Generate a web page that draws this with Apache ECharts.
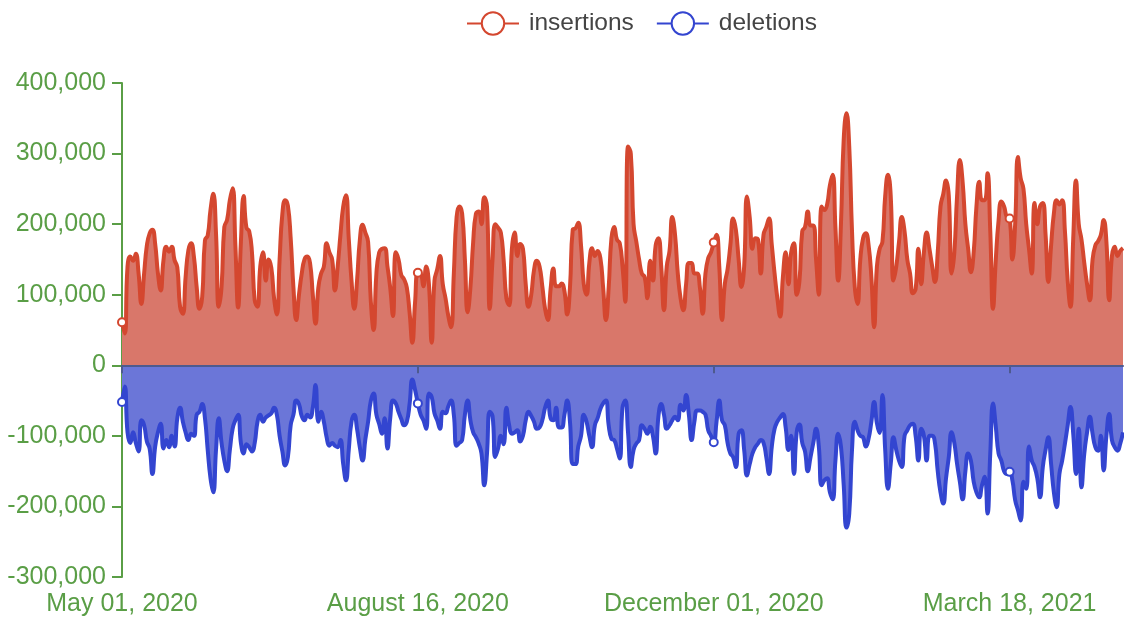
<!DOCTYPE html>
<html>
<head>
<meta charset="utf-8">
<title>insertions / deletions</title>
<script src="https://cdn.jsdelivr.net/npm/echarts@6.0.0/dist/echarts.min.js"></script>
<style>
  html, body { margin: 0; padding: 0; background: #fff; }
  #main { width: 1124px; height: 620px; }
</style>
</head>
<body>
<div id="main"></div>
<script>
  // daily values starting May 01, 2020
  const startYear = 2020
  const startMonth = 4 // May (0-based)
  const startDay = 1
  const monthNames = ['January', 'February', 'March', 'April', 'May', 'June', 'July',
    'August', 'September', 'October', 'November', 'December']

  const insertions = [
    61000, 45000, 140000, 154000, 148000, 158000, 130000, 87000, 130000, 170000,
    187000, 192000, 172000, 130000, 106000, 149000, 168000, 161000, 168000, 149000,
    139000, 83000, 73000, 125000, 163000, 173000, 154000, 111000, 80000, 97000,
    177000, 184000, 220000, 243000, 187000, 83000, 111000, 196000, 206000, 234000,
    251000, 170000, 82000, 175000, 240000, 195000, 190000, 160000, 92000, 83000,
    140000, 160000, 120000, 150000, 138000, 95000, 72000, 150000, 215000, 234000,
    226000, 180000, 110000, 64000, 100000, 130000, 150000, 154000, 145000, 100000,
    59000, 110000, 130000, 140000, 173000, 160000, 150000, 106000, 140000, 185000,
    225000, 241000, 180000, 120000, 80000, 120000, 177000, 199000, 188000, 175000,
    90000, 50000, 130000, 160000, 165000, 166000, 140000, 110000, 70000, 160000,
    150000, 128000, 122000, 110000, 75000, 32000, 90000, 131000, 130000, 112000,
    140000, 115000, 32000, 120000, 136000, 155000, 115000, 95000, 70000, 54000,
    130000, 210000, 225000, 215000, 150000, 75000, 110000, 175000, 215000, 218000,
    200000, 238000, 225000, 80000, 150000, 200000, 195000, 188000, 150000, 95000,
    85000, 165000, 188000, 155000, 172000, 165000, 115000, 83000, 100000, 135000,
    148000, 140000, 112000, 80000, 64000, 108000, 137000, 112000, 112000, 116000,
    105000, 72000, 110000, 192000, 194000, 202000, 170000, 115000, 100000, 145000,
    166000, 155000, 162000, 152000, 110000, 64000, 110000, 180000, 196000, 178000,
    173000, 140000, 90000, 310000, 300000, 200000, 175000, 150000, 130000, 125000,
    95000, 148000, 120000, 170000, 180000, 140000, 78000, 140000, 162000, 210000,
    185000, 130000, 95000, 78000, 115000, 145000, 145000, 130000, 130000, 110000,
    73000, 130000, 152000, 160000, 174000, 185000, 140000, 64000, 115000, 136000,
    170000, 208000, 192000, 150000, 111000, 140000, 239000, 210000, 165000, 180000,
    178000, 130000, 185000, 196000, 208000, 170000, 130000, 95000, 69000, 125000,
    160000, 115000, 160000, 173000, 100000, 120000, 190000, 196000, 218000, 198000,
    198000, 150000, 100000, 225000, 220000, 228000, 255000, 270000, 195000, 120000,
    200000, 320000, 357000, 310000, 190000, 111000, 87000, 150000, 180000, 187000,
    170000, 125000, 54000, 140000, 165000, 175000, 240000, 270000, 240000, 120000,
    140000, 175000, 210000, 190000, 150000, 130000, 102000, 108000, 165000, 115000,
    160000, 188000, 165000, 140000, 118000, 160000, 225000, 243000, 262000, 240000,
    130000, 160000, 240000, 291000, 260000, 200000, 165000, 132000, 160000, 225000,
    260000, 234000, 234000, 272000, 190000, 80000, 150000, 205000, 232000, 225000,
    210000, 208000, 150000, 200000, 295000, 265000, 250000, 200000, 165000, 130000,
    230000, 200000, 225000, 230000, 185000, 118000, 170000, 215000, 234000, 228000,
    234000, 190000, 120000, 83000, 180000, 262000, 200000, 178000, 145000, 115000,
    92000, 150000, 170000, 176000, 185000, 206000, 175000, 92000, 155000, 168000,
    155000, 162000, 166000
  ]

  const deletions = [
    -52000, -30000, -95000, -110000, -95000, -110000, -122000, -78000, -85000, -108000,
    -118000, -154000, -115000, -95000, -83000, -118000, -106000, -116000, -100000, -115000,
    -75000, -60000, -80000, -95000, -106000, -97000, -100000, -70000, -66000, -55000,
    -75000, -120000, -160000, -180000, -120000, -75000, -110000, -135000, -150000, -120000,
    -90000, -78000, -70000, -110000, -125000, -112000, -116000, -122000, -110000, -80000,
    -70000, -80000, -74000, -71000, -68000, -60000, -70000, -100000, -122000, -142000,
    -130000, -85000, -70000, -50000, -55000, -72000, -78000, -70000, -74000, -60000,
    -28000, -80000, -66000, -80000, -102000, -114000, -110000, -114000, -116000, -106000,
    -140000, -163000, -120000, -80000, -70000, -90000, -116000, -135000, -105000, -80000,
    -50000, -40000, -70000, -83000, -97000, -75000, -118000, -75000, -50000, -54000,
    -66000, -76000, -85000, -80000, -55000, -20000, -35000, -54000, -70000, -78000,
    -90000, -40000, -45000, -68000, -78000, -90000, -66000, -68000, -58000, -50000,
    -70000, -114000, -110000, -106000, -70000, -50000, -78000, -95000, -102000, -111000,
    -125000, -170000, -125000, -66000, -72000, -130000, -118000, -100000, -112000, -60000,
    -85000, -97000, -95000, -92000, -108000, -100000, -78000, -66000, -72000, -80000,
    -90000, -88000, -78000, -60000, -50000, -75000, -78000, -60000, -88000, -88000,
    -70000, -50000, -80000, -140000, -140000, -115000, -100000, -70000, -80000, -100000,
    -116000, -85000, -75000, -62000, -54000, -50000, -85000, -104000, -106000, -118000,
    -132000, -60000, -50000, -95000, -144000, -120000, -111000, -106000, -85000, -90000,
    -97000, -87000, -100000, -125000, -72000, -55000, -70000, -90000, -85000, -78000,
    -73000, -78000, -56000, -64000, -42000, -70000, -106000, -80000, -64000, -64000,
    -66000, -70000, -92000, -100000, -109000, -80000, -50000, -78000, -85000, -110000,
    -125000, -130000, -144000, -97000, -92000, -120000, -156000, -140000, -125000, -116000,
    -111000, -106000, -110000, -130000, -154000, -115000, -90000, -80000, -74000, -69000,
    -88000, -120000, -100000, -154000, -95000, -84000, -110000, -122000, -150000, -130000,
    -110000, -90000, -115000, -170000, -163000, -160000, -180000, -190000, -135000, -97000,
    -115000, -170000, -230000, -210000, -120000, -80000, -92000, -100000, -102000, -115000,
    -104000, -80000, -52000, -82000, -96000, -42000, -120000, -175000, -140000, -102000,
    -120000, -135000, -144000, -100000, -92000, -85000, -83000, -100000, -135000, -90000,
    -100000, -135000, -100000, -100000, -110000, -150000, -180000, -196000, -160000, -130000,
    -95000, -110000, -140000, -165000, -190000, -150000, -125000, -135000, -165000, -180000,
    -187000, -170000, -158000, -210000, -125000, -54000, -87000, -125000, -135000, -150000,
    -154000, -151000, -163000, -191000, -205000, -220000, -165000, -175000, -115000, -135000,
    -144000, -160000, -187000, -144000, -120000, -102000, -140000, -180000, -201000, -154000,
    -135000, -111000, -85000, -59000, -97000, -154000, -90000, -173000, -125000, -95000,
    -73000, -97000, -116000, -121000, -100000, -149000, -100000, -69000, -106000, -116000,
    -121000, -111000, -95000
  ]

  const yMin = -300000
  const yMax = 400000
  const yStep = 100000
  const labelEvery = 107 // one date label every 107 days

  const green = '#5a9e46'
  const zeroLineColor = '#4e5a8e'

  // category labels: "May 01, 2020"
  const dates = []
  for (let i = 0; i < insertions.length; i++) {
    const d = new Date(Date.UTC(startYear, startMonth, startDay + i))
    dates.push(monthNames[d.getUTCMonth()] + ' ' + String(d.getUTCDate()).padStart(2, '0') + ', ' + d.getUTCFullYear())
  }

  const chart = echarts.init(document.getElementById('main'))
  chart.setOption({
    animation: false,
    textStyle: {
      fontFamily: 'Liberation Sans, Arial, sans-serif'
    },
    legend: {
      data: ['insertions', 'deletions'],
      top: 6,
      left: 461,
      itemWidth: 52,
      itemHeight: 28,
      itemGap: 22,
      itemStyle: { borderWidth: 2 },
      lineStyle: { width: 2 },
      textStyle: { fontSize: 24.5, color: '#444', padding: [0, 0, 0, 5] }
    },
    grid: {
      left: 122,
      right: 1,
      top: 83,
      bottom: 43
    },
    xAxis: [
      {
        // zero line with ticks
        type: 'category',
        data: dates,
        boundaryGap: false,
        z: 10,
        axisLine: { onZero: true, lineStyle: { color: zeroLineColor, width: 2 } },
        axisTick: { interval: labelEvery - 1, length: 8, lineStyle: { color: zeroLineColor, width: 2 } },
        axisLabel: { show: false, interval: labelEvery - 1 },
        splitLine: { show: false }
      },
      {
        // date labels at the bottom
        type: 'category',
        data: dates,
        boundaryGap: false,
        position: 'bottom',
        axisLine: { show: false, onZero: false },
        axisTick: { show: false },
        axisLabel: { interval: labelEvery - 1, color: green, fontSize: 25, margin: 15 },
        splitLine: { show: false }
      }
    ],
    yAxis: {
      type: 'value',
      min: yMin,
      max: yMax,
      interval: yStep,
      axisLine: { show: true, lineStyle: { color: green, width: 2 } },
      axisTick: { show: true, length: 10, lineStyle: { color: green, width: 2 } },
      axisLabel: {
        color: green,
        fontSize: 25,
        margin: 16,
        formatter: v => v.toLocaleString('en-US')
      },
      splitLine: { show: false }
    },
    series: [
      {
        name: 'insertions',
        type: 'line',
        xAxisIndex: 1,
        data: insertions,
        smooth: 0.5,
        symbol: 'emptyCircle',
        symbolSize: 8,
        showAllSymbol: 'auto',
        color: '#d4472f',
        lineStyle: { width: 4, color: '#d4472f' },
        itemStyle: { color: '#d4472f', borderWidth: 2 },
        areaStyle: { color: '#d9776a', opacity: 1 }
      },
      {
        name: 'deletions',
        type: 'line',
        xAxisIndex: 1,
        data: deletions,
        smooth: 0.5,
        symbol: 'emptyCircle',
        symbolSize: 8,
        showAllSymbol: 'auto',
        color: '#3345d0',
        lineStyle: { width: 4, color: '#3345d0' },
        itemStyle: { color: '#3345d0', borderWidth: 2 },
        areaStyle: { color: '#6b76d8', opacity: 1 }
      }
    ]
  })
</script>
</body>
</html>
